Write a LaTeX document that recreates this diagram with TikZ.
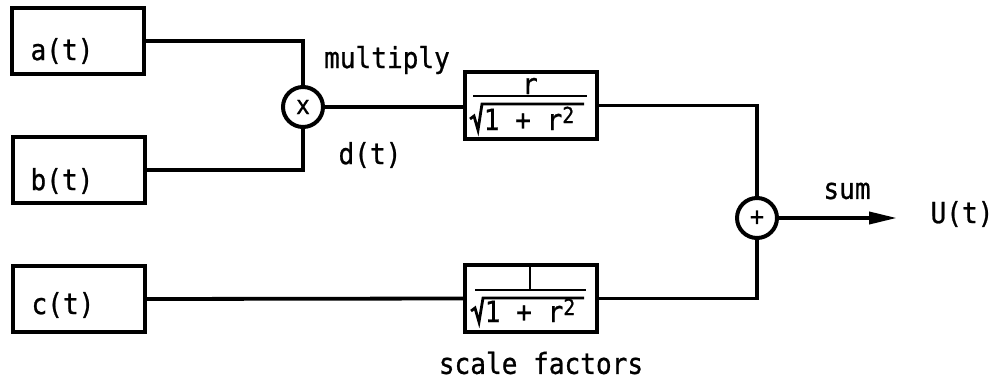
\documentclass[tikz,border=0pt]{standalone}
\usepackage{fontspec}
\setmainfont{DejaVu Sans Mono}[FakeStretch=0.9, FakeBold=0.8]
\usetikzlibrary{arrows.meta}
\newcommand{\sqtwo}{\raisebox{7pt}{\fontsize{22}{24}\selectfont 2}}
\begin{document}
\begin{tikzpicture}[x=1pt,y=-1pt,
  blk/.style={draw, line width=4.2pt, minimum width=132pt, minimum height=66pt, inner sep=0pt},
  junc/.style={draw, circle, line width=4pt, minimum size=40pt, inner sep=0pt, font=\fontsize{26}{28}\selectfont},
  txt/.style={inner sep=0pt, font=\fontsize{29}{32}\selectfont},
  wire/.style={line width=3.8pt},
  thin/.style={line width=2.8pt}
]
\useasboundingbox (0,0) rectangle (1000,385);

% source boxes
\node[blk] (a) at (78,41) {};
\node[txt] (alab) at (62,51) {a(t)};
\node[blk] (b) at (79,170) {};
\node[txt] (blab) at (62,181) {b(t)};
\node[blk] (c) at (79,299) {};
\node[txt] (clab) at (63,305) {c(t)};

% junctions
\node[junc] (mult) at (303,107) {x};
\node[junc] (sum) at (757,218) {+};

% scale factor boxes
\node[blk, minimum height=67pt] (f1) at (531,105.5) {};
\node[blk, minimum height=67pt] (f2) at (531,298.5) {};

% contents of f1
\node[txt] (f1num) at (530,86) {r};
\draw[thin] (473,96) -- (587,96);
\draw[thin, line join=miter] (470,119) -- (474,116) -- (478,130) -- (482,104) -- (584,104);
\node[txt, anchor=base] (f1den) at (529,130) {1 + r\sqtwo};

% contents of f2
\draw[thin] (530,265) -- (530,290);
\draw[thin] (475,290) -- (586,290);
\draw[thin, line join=miter] (471,311) -- (475,308) -- (479,322) -- (483,298) -- (584,298);
\node[txt, anchor=base] (f2den) at (530,322) {1 + r\sqtwo};

% connectors
\draw[wire] (a.east) -| (mult.north);
\draw[wire] (b.east) -| (mult.south);
\draw[wire] (mult.east) -- (mult.east -| f1.west);
\draw[wire] (c.east) -- (f2.west);
\draw[wire] (f1.east) -| (sum.north);
\draw[wire] (f2.east) -| (sum.south);
\coordinate (out) at (897,218);
\draw[wire, -{Triangle[length=28pt,width=12pt]}] (sum.east) -- (out);

% labels
\node[txt] (lmul) at (387,60) {multiply};
\node[txt] (ld) at (370,155) {d(t)};
\node[txt] (lsum) at (847,191) {sum};
\node[txt] (lU) at (962,214) {U(t)};
\node[txt] (lsf) at (541,363) {scale factors};
\end{tikzpicture}
\end{document}
